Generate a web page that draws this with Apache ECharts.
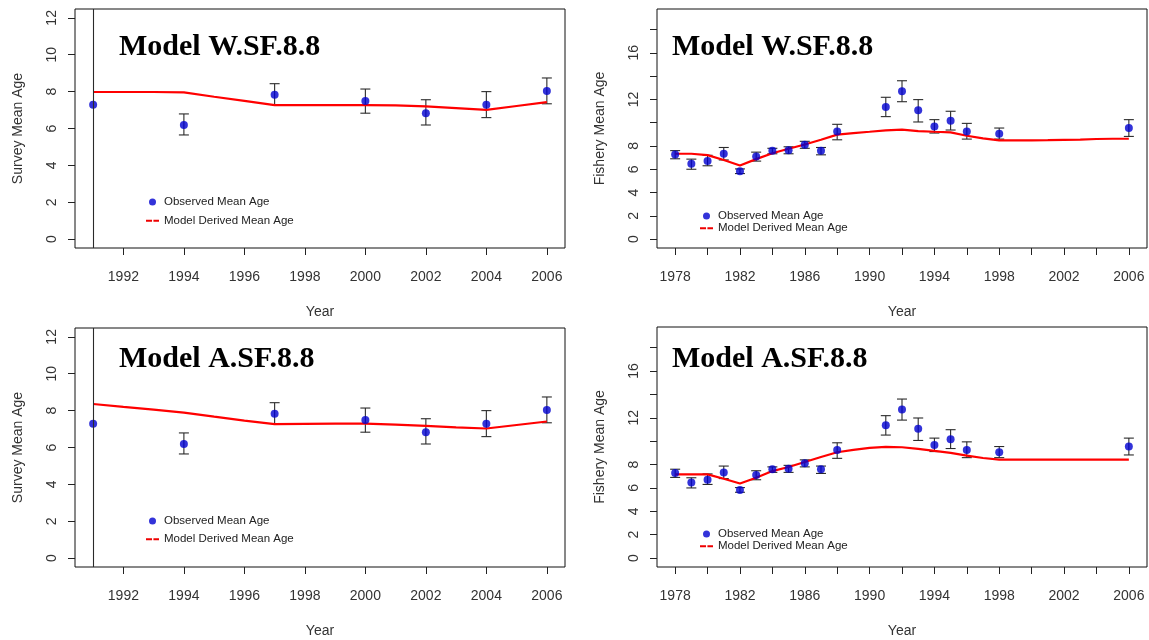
<!DOCTYPE html>
<html>
<head>
<meta charset="utf-8">
<script src="https://cdn.jsdelivr.net/npm/echarts@6/dist/echarts.min.js"></script>
<style>
  html, body { margin: 0; padding: 0; background: #fff; }
  #chart { width: 1149px; height: 640px; }
</style>
</head>
<body>
<div id="chart"></div>
<script>
// ---- Survey index: observed mean age with 95% bounds ----
const surveyYears = [1991, 1994, 1997, 2000, 2002, 2004, 2006];
const surveyObs   = [7.29, 6.19, 7.83, 7.49, 6.83, 7.29, 8.03];
const surveyLo    = [null, 5.65, 7.30, 6.83, 6.19, 6.59, 7.34];
const surveyHi    = [null, 6.79, 8.43, 8.14, 7.56, 8.00, 8.74];
// 1991 survey interval is unbounded: drawn as a full-height rule
const surveyOpenYear = 1991;

// ---- Survey model-derived mean age (annual) ----
const surveyModelYears = [1991, 1992, 1993, 1994, 1995, 1996, 1997, 1998, 1999, 2000, 2001, 2002, 2003, 2004, 2005, 2006];
const surveyModelW = [7.98, 7.98, 7.98, 7.96, 7.72, 7.50, 7.27, 7.27, 7.27, 7.27, 7.25, 7.20, 7.11, 7.01, 7.22, 7.43];
const surveyModelA = [8.36, 8.20, 8.05, 7.89, 7.67, 7.46, 7.27, 7.28, 7.29, 7.29, 7.24, 7.17, 7.09, 7.03, 7.22, 7.41];

// ---- Fishery: observed mean age with 95% bounds ----
const fisheryYears = [1978, 1979, 1980, 1981, 1982, 1983, 1984, 1985, 1986, 1987, 1988, 1991, 1992, 1993, 1994, 1995, 1996, 1998, 2006];
const fisheryObs   = [7.27, 6.47, 6.70, 7.33, 5.83, 7.10, 7.59, 7.64, 8.10, 7.59, 9.25, 11.35, 12.70, 11.06, 9.68, 10.17, 9.25, 9.05, 9.54];
const fisheryLo    = [6.90, 6.00, 6.30, 6.80, 5.63, 6.70, 7.33, 7.33, 7.80, 7.24, 8.53, 10.52, 11.80, 10.06, 9.11, 9.37, 8.59, 8.59, 8.82];
const fisheryHi    = [7.60, 6.87, 7.20, 7.87, 6.03, 7.47, 7.80, 7.93, 8.40, 7.87, 9.86, 12.18, 13.60, 11.98, 10.26, 10.98, 9.94, 9.54, 10.26];

// ---- Fishery model-derived mean age (annual) ----
const fisheryModelYears = [1978, 1979, 1980, 1981, 1982, 1983, 1984, 1985, 1986, 1987, 1988, 1989, 1990, 1991, 1992,
                           1993, 1994, 1995, 1996, 1997, 1998, 1999, 2000, 2001, 2002, 2003, 2004, 2005, 2006];
const fisheryModelW = [7.33, 7.33, 7.21, 6.80, 6.32, 6.87, 7.38, 7.76, 8.13, 8.53, 8.97, 9.11, 9.22, 9.34, 9.40,
                       9.28, 9.22, 9.17, 8.88, 8.65, 8.48, 8.48, 8.48, 8.50, 8.53, 8.55, 8.60, 8.62, 8.62];
const fisheryModelA = [7.16, 7.16, 7.16, 6.78, 6.38, 6.87, 7.44, 7.79, 8.22, 8.65, 9.05, 9.25, 9.43, 9.51, 9.48,
                       9.34, 9.17, 9.00, 8.76, 8.56, 8.42, 8.42, 8.42, 8.42, 8.42, 8.42, 8.42, 8.42, 8.42];

// ---- Axis ticks and labels ----
const surveyXTicks  = [1992, 1994, 1996, 1998, 2000, 2002, 2004, 2006];
const fisheryXTicks = [1978, 1980, 1982, 1984, 1986, 1988, 1990, 1992, 1994, 1996, 1998, 2000, 2002, 2004, 2006];
const fisheryXLabels = [1978, 1982, 1986, 1990, 1994, 1998, 2002, 2006];
const surveyYTicks  = [0, 2, 4, 6, 8, 10, 12];
const fisheryYTicks = [0, 2, 4, 6, 8, 10, 12, 14, 16, 18];
const fisheryYLabels = [0, 2, 4, 6, 8, 12, 16];

const panelTitles = ['Model W.SF.8.8', 'Model W.SF.8.8', 'Model A.SF.8.8', 'Model A.SF.8.8'];
const OBS = 'Observed Mean Age';
const MOD = 'Model Derived Mean Age';

const SANS = '"Liberation Sans", Arial, sans-serif';
const SERIF = '"Liberation Serif", "Times New Roman", serif';
const INK = '#333';
const DOT = '#0000d0';

const grids = [
  { left: 75,  top: 9,   width: 490, height: 239 },
  { left: 657, top: 9,   width: 490, height: 239 },
  { left: 75,  top: 328, width: 490, height: 239 },
  { left: 657, top: 327, width: 490, height: 240 }
].map(g => Object.assign(g, { show: true, borderColor: '#111', borderWidth: 1, backgroundColor: 'transparent' }));

function xAxisFor(i, min, max, ticks, labels) {
  return {
    gridIndex: i, type: 'value', min: min, max: max,
    axisLine: { show: false, onZero: false },
    splitLine: { show: false },
    axisTick: { show: true, inside: false, length: 7, customValues: ticks, lineStyle: { color: '#222', width: 1 } },
    axisLabel: { customValues: labels, margin: 22, fontSize: 14, fontFamily: SANS, color: INK, formatter: v => String(v) },
    name: 'Year', nameLocation: 'middle', nameGap: 57,
    nameTextStyle: { fontSize: 14, fontFamily: SANS, color: INK }
  };
}

function yAxisFor(i, min, max, ticks, labels, name) {
  return {
    gridIndex: i, type: 'value', min: min, max: max,
    axisLine: { show: false, onZero: false },
    splitLine: { show: false },
    axisTick: { show: true, inside: false, length: 7, customValues: ticks, lineStyle: { color: '#222', width: 1 } },
    axisLabel: { customValues: labels, rotate: 90, margin: 16, fontSize: 14, fontFamily: SANS, color: INK, formatter: v => String(v) },
    name: name, nameLocation: 'middle', nameGap: 50, nameRotate: 90,
    nameTextStyle: { fontSize: 14, fontFamily: SANS, color: INK }
  };
}

function modelLine(i, xs, ys) {
  return {
    name: MOD, type: 'line', xAxisIndex: i, yAxisIndex: i,
    data: xs.map((x, k) => [x, ys[k]]),
    symbol: 'none', smooth: false, z: 3,
    color: '#ff0000',
    lineStyle: { color: '#ff0000', width: 2.2 },
    silent: true
  };
}

function errorBars(i, xs, lo, hi, cap) {
  const rows = [];
  xs.forEach((x, k) => { if (lo[k] != null && hi[k] != null) rows.push([x, lo[k], hi[k]]); });
  return {
    type: 'custom', xAxisIndex: i, yAxisIndex: i, z: 2, silent: true,
    data: rows,
    encode: { x: 0, y: [1, 2] },
    renderItem: function (params, api) {
      const x = api.value(0);
      const pl = api.coord([x, api.value(1)]);
      const ph = api.coord([x, api.value(2)]);
      const st = { stroke: '#2a2a2a', lineWidth: 1.1 };
      return {
        type: 'group',
        children: [
          { type: 'line', shape: { x1: pl[0], y1: pl[1], x2: ph[0], y2: ph[1] }, style: st },
          { type: 'line', shape: { x1: pl[0] - cap, y1: pl[1], x2: pl[0] + cap, y2: pl[1] }, style: st },
          { type: 'line', shape: { x1: ph[0] - cap, y1: ph[1], x2: ph[0] + cap, y2: ph[1] }, style: st }
        ]
      };
    }
  };
}

function observed(i, xs, ys, openYear) {
  const s = {
    name: OBS, type: 'scatter', xAxisIndex: i, yAxisIndex: i, z: 4,
    data: xs.map((x, k) => [x, ys[k]]),
    symbol: 'circle', symbolSize: 8,
    color: DOT,
    itemStyle: { color: DOT },
    silent: true
  };
  if (openYear != null) {
    s.markLine = {
      silent: true, symbol: 'none', animation: false,
      label: { show: false },
      lineStyle: { color: '#2a2a2a', type: 'solid', width: 1.1 },
      data: [{ xAxis: openYear }]
    };
  }
  return s;
}

// short dashed red key for the model line
const MOD_KEY = 'path://M0,0 L6.5,0 L6.5,2 L0,2 Z M8,0 L14,0 L14,2 L8,2 Z';

function legendAt(left, top, gap) {
  return {
    left: left, top: top, orient: 'vertical', padding: 0,
    itemWidth: 13, itemHeight: 7, itemGap: gap,
    selectedMode: false,
    data: [
      { name: OBS, icon: 'circle', itemStyle: { color: DOT } },
      { name: MOD, icon: MOD_KEY, itemStyle: { color: '#ee0000' } }
    ],
    textStyle: { fontSize: 11.5, fontFamily: SANS, color: '#222', lineHeight: 12 }
  };
}

const surveyX = [1990.4, 2006.6];
const fisheryX = [1976.88, 2007.12];
const surveyY = [-0.48, 12.48];
const fisheryY = [-0.76, 19.76];

const titleFont = 'bold 30px ' + SERIF;

const option = {
  animation: false,
  backgroundColor: '#ffffff',
  grid: grids,
  xAxis: [
    xAxisFor(0, surveyX[0], surveyX[1], surveyXTicks, surveyXTicks),
    xAxisFor(1, fisheryX[0], fisheryX[1], fisheryXTicks, fisheryXLabels),
    xAxisFor(2, surveyX[0], surveyX[1], surveyXTicks, surveyXTicks),
    xAxisFor(3, fisheryX[0], fisheryX[1], fisheryXTicks, fisheryXLabels)
  ],
  yAxis: [
    yAxisFor(0, surveyY[0], surveyY[1], surveyYTicks, surveyYTicks, 'Survey Mean Age'),
    yAxisFor(1, fisheryY[0], fisheryY[1], fisheryYTicks, fisheryYLabels, 'Fishery Mean Age'),
    yAxisFor(2, surveyY[0], surveyY[1], surveyYTicks, surveyYTicks, 'Survey Mean Age'),
    yAxisFor(3, fisheryY[0], fisheryY[1], fisheryYTicks, fisheryYLabels, 'Fishery Mean Age')
  ],
  legend: [
    legendAt(146, 196, 6.7),
    legendAt(700, 210, 0.3),
    legendAt(146, 515, 6.3),
    legendAt(700, 528, 0.3)
  ],
  series: [
    modelLine(0, surveyModelYears, surveyModelW),
    errorBars(0, surveyYears, surveyLo, surveyHi, 5),
    observed(0, surveyYears, surveyObs, surveyOpenYear),

    modelLine(1, fisheryModelYears, fisheryModelW),
    errorBars(1, fisheryYears, fisheryLo, fisheryHi, 5),
    observed(1, fisheryYears, fisheryObs, null),

    modelLine(2, surveyModelYears, surveyModelA),
    errorBars(2, surveyYears, surveyLo, surveyHi, 5),
    observed(2, surveyYears, surveyObs, surveyOpenYear),

    modelLine(3, fisheryModelYears, fisheryModelA),
    errorBars(3, fisheryYears, fisheryLo, fisheryHi, 5),
    observed(3, fisheryYears, fisheryObs, null)
  ],
  graphic: [
    { type: 'text', x: 119, y: 47,  style: { text: panelTitles[0], font: titleFont, fill: '#000', verticalAlign: 'middle' } },
    { type: 'text', x: 672, y: 47,  style: { text: panelTitles[1], font: titleFont, fill: '#000', verticalAlign: 'middle' } },
    { type: 'text', x: 119, y: 359, style: { text: panelTitles[2], font: titleFont, fill: '#000', verticalAlign: 'middle' } },
    { type: 'text', x: 672, y: 359, style: { text: panelTitles[3], font: titleFont, fill: '#000', verticalAlign: 'middle' } }
  ]
};

const chart = echarts.init(document.getElementById('chart'), null, { renderer: 'canvas' });
chart.setOption(option);
</script>
</body>
</html>
